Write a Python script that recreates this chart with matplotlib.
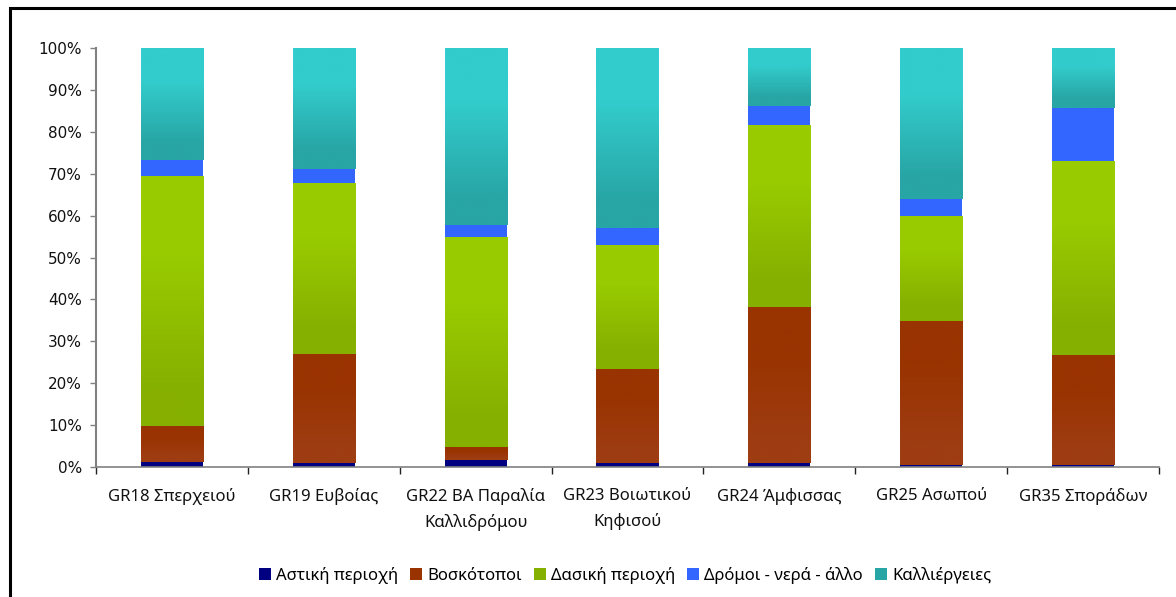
import numpy as np
import matplotlib
matplotlib.use("Agg")
import matplotlib.pyplot as plt
from matplotlib.colors import LinearSegmentedColormap, to_rgb
from matplotlib.patches import Rectangle, Patch

# Land use shares per water district (fractions of total area)
categories = ["GR18 Σπερχειού", "GR19 Ευβοίας", "GR22 ΒΑ Παραλία\nΚαλλιδρόμου",
              "GR23 Βοιωτικού\nΚηφισού", "GR24 Άμφισσας", "GR25 Ασωπού", "GR35 Σποράδων"]
series_names = ["Αστική περιοχή", "Βοσκότοποι", "Δασική περιοχή",
                "Δρόμοι - νερά - άλλο", "Καλλιέργειες"]
urban   = [1.1, 0.9, 1.7, 1.0, 1.0, 0.5, 0.5]
pasture = [8.7, 26.1, 3.1, 22.4, 37.2, 34.3, 26.2]
forest  = [59.6, 40.7, 50.0, 29.4, 43.4, 24.9, 46.1]
roads   = [3.9, 3.4, 3.0, 4.2, 4.6, 4.3, 12.9]
crops   = [26.7, 28.9, 42.2, 43.0, 13.8, 36.0, 14.3]

# (top colour, bottom colour) of each series' vertical gradient
fills = [("#000080", "#000080"),
         ("#993300", "#9E3C12"),
         ("#99CC00", "#86B000"),
         ("#3366FF", "#3366FF"),
         ("#33CCCC", "#28A5A5")]

W, H = 1176, 597
fig = plt.figure(figsize=(W / 100, H / 100), dpi=100)
ax = fig.add_axes([96 / W, 130 / H, (1159 - 96) / W, (467 - 48) / H])

data = np.array([urban, pasture, forest, roads, crops], dtype=float)
data = data / data.sum(axis=0)
x = np.arange(len(categories))
bottom = np.zeros(len(categories))
bar_w = 0.41

for vals, (top_c, bot_c) in zip(data, fills):
    bars = ax.bar(x, vals, bar_w, bottom=bottom, color=top_c, linewidth=0, zorder=2)
    if top_c != bot_c:
        cmap = LinearSegmentedColormap.from_list(
            "g", [(0.0, to_rgb(bot_c)), (0.15, to_rgb(bot_c)),
                  (0.7, to_rgb(top_c)), (1.0, to_rgb(top_c))])
        grad = np.linspace(0, 1, 256).reshape(-1, 1)
        for b in bars:
            x0, y0 = b.get_x(), b.get_y()
            ax.imshow(grad, cmap=cmap, origin="lower", aspect="auto", zorder=2.5,
                      extent=(x0, x0 + b.get_width(), y0, y0 + b.get_height()),
                      interpolation="bilinear")
    bottom += vals

ax.set_xlim(-0.5, len(categories) - 0.5)
ax.set_ylim(0, 1)

ax.set_yticks(np.linspace(0, 1, 11))
ax.set_yticklabels([f"{int(v)}%" for v in np.linspace(0, 100, 11)],
                   fontsize=11, family="DejaVu Sans", color="#111111")
ax.tick_params(axis="y", direction="out", length=4, width=1, color="#808080", pad=6)

ax.set_xticks(np.arange(-0.5, len(categories), 1.0))
ax.set_xticklabels([])
ax.tick_params(axis="x", which="major", direction="out", length=5, width=1, color="#222222")
ax.set_xticks(x, minor=True)
ax.set_xticklabels(categories, minor=True, fontsize=12, family="Noto Sans",
                   color="#111111", linespacing=1.7)
ax.tick_params(axis="x", which="minor", length=0, pad=15)

for s in ["top", "right"]:
    ax.spines[s].set_visible(False)
ax.spines["left"].set_color("#808080")
ax.spines["bottom"].set_color("#808080")
ax.spines["left"].set_linewidth(1.5)
ax.spines["bottom"].set_linewidth(1.2)

handles = [Patch(facecolor=c[1] if i in (2, 4) else c[0], edgecolor="none")
           for i, c in enumerate(fills)]
fig.legend(handles, series_names, loc="center", bbox_to_anchor=(625 / W, 1 - 575 / H),
           ncol=5, frameon=False, prop={"family": "Noto Sans", "size": 12},
           handlelength=0.75, handleheight=0.75, handletextpad=0.3, columnspacing=0.7)

# chart frame
fig.add_artist(Rectangle((10 / W, -0.05), 1.05, 1 - 8 / H + 0.05, transform=fig.transFigure,
                         fill=False, edgecolor="black", linewidth=2.2))

fig.savefig("out.png", dpi=100, facecolor="white")
